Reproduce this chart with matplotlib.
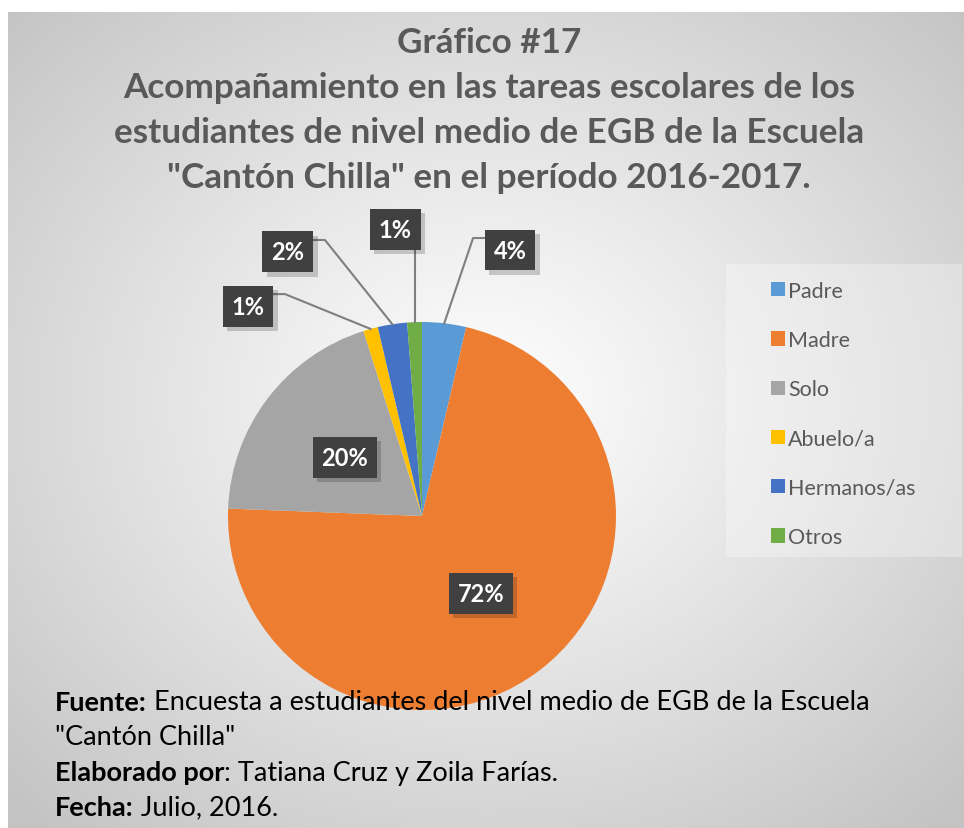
import numpy as np
import matplotlib
matplotlib.use('Agg')
import matplotlib.pyplot as plt
import matplotlib.patheffects as pe
from matplotlib.patches import Rectangle

plt.rcParams['font.family'] = ['Lato', 'DejaVu Sans']

# data (student counts, shown as percentages)
categories = ['Padre', 'Madre', 'Solo', 'Abuelo/a', 'Hermanos/as', 'Otros']
counts = [3, 59, 16, 1, 2, 1]
colors = ['#5B9BD5', '#ED7D31', '#A5A5A5', '#FFC000', '#4472C4', '#70AD47']

title_lines = ['Gráfico #17',
               'Acompañamiento en las tareas escolares de los',
               'estudiantes de nivel medio de EGB de la Escuela',
               '"Cantón Chilla" en el período 2016-2017.']
footer = [('Fuente:', ' Encuesta a estudiantes del nivel medio de EGB de la Escuela'),
          ('', '"Cantón Chilla"'),
          ('Elaborado por', ': Tatiana Cruz y Zoila Farías.'),
          ('Fecha:', ' Julio, 2016.')]

W, H = 964, 829
fig = plt.figure(figsize=(W / 100, H / 100), dpi=100)
fig.patch.set_facecolor('white')

# radial gradient background
bg = fig.add_axes([8 / W, 0, 956 / W, 816 / H], zorder=-5)
yy, xx = np.mgrid[0:400, 0:470]
r = np.sqrt(((xx - 235) / 235.0) ** 2 + ((yy - 190) / 200.0) ** 2) / np.sqrt(2)
v = 0.995 - 0.23 * np.clip(r, 0, 1) ** 1.1
bg.imshow(np.dstack([v, v, v]), aspect='auto', extent=(0, 1, 0, 1))
bg.set_axis_off()

# legend background panel
fig.patches.append(Rectangle((726 / W, 1 - 558 / H), 236 / W, 293 / H,
                             transform=fig.transFigure, fc='white', alpha=0.3,
                             ec='none', zorder=-1))

# pie
cx, cy, R = 422, 517, 194
ax = fig.add_axes([(cx - R) / W, (H - cy - R) / H, 2 * R / W, 2 * R / H])
wedges, _ = ax.pie(counts, colors=colors, startangle=90, counterclock=False,
                   radius=1, wedgeprops=dict(linewidth=0))
ax.set_xlim(-1, 1)
ax.set_ylim(-1, 1)
ax.set_axis_off()

total = sum(counts)
# label placement for the thin slices (data units of the pie axes)
outside = {0: (0.454, 1.371), 3: (-0.897, 1.082), 4: (-0.691, 1.361), 5: (-0.139, 1.479)}
half_w = 25 / R

for i, w in enumerate(wedges):
    pct = 100.0 * counts[i] / total
    mid = np.deg2rad((w.theta1 + w.theta2) / 2)
    ex, ey = np.cos(mid), np.sin(mid)
    if i in outside:
        lx, ly = outside[i]
        if abs(lx - ex) < half_w:
            xs, ys = [ex, ex], [ey, ly - 20 / R]
        elif lx > ex:
            bx = lx - half_w
            xs, ys = [ex, bx - 12 / R, bx], [ey, ly + 12 / R, ly + 12 / R]
        else:
            bx = lx + half_w
            xs, ys = [ex, bx + 12 / R, bx], [ey, ly + 12 / R, ly + 12 / R]
        ax.plot(xs, ys, color='#7f7f7f', lw=1.5, zorder=3, clip_on=False)
    else:
        lx, ly = 0.5 * ex, 0.5 * ey
    t = ax.text(lx, ly, '%.0f%%' % pct, ha='center', va='center', color='white',
                fontsize=17, fontweight='bold', zorder=5, clip_on=False,
                bbox=dict(boxstyle='square,pad=0.38', fc='#404040', ec='none', lw=0))
    t.get_bbox_patch().set_path_effects([pe.withSimplePatchShadow(offset=(3, -3), alpha=0.2),
                                         pe.Normal()])

# legend
leg = ax.legend(wedges, categories, loc='upper left',
                bbox_to_anchor=(760 / W, 1 - 271 / H), bbox_transform=fig.transFigure,
                frameon=False, fontsize=15.5, handlelength=0.65, handleheight=0.65,
                handletextpad=0.15, labelspacing=1.36, borderpad=0)
for txt in leg.get_texts():
    txt.set_color('#595959')

# title
for k, line in enumerate(title_lines):
    fig.text(489 / W, 1 - (43 + 45 * k) / H, line, ha='center', va='center',
             fontsize=25.3, fontweight='bold', color='#595959')

# footer
for k, (bold, rest) in enumerate(footer):
    y = 1 - (703 + 35 * k) / H
    if bold:
        t1 = fig.text(55 / W, y, bold, ha='left', va='center', fontsize=19.5,
                      fontweight='bold', color='black', zorder=10)
        ax.annotate(rest, xy=(1, 0.5), xycoords=t1, ha='left', va='center',
                    fontsize=19.5, color='black', annotation_clip=False, zorder=10)
    else:
        fig.text(55 / W, y, rest, ha='left', va='center', fontsize=19.5,
                 color='black', zorder=10)

fig.savefig('out.png', dpi=100)
